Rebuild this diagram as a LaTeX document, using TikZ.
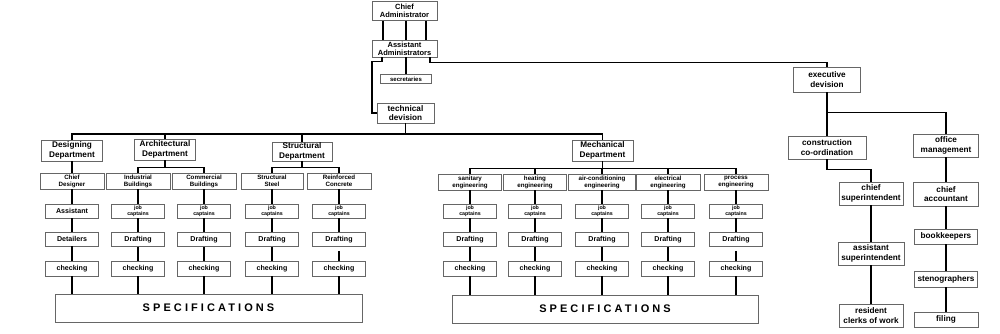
\documentclass[tikz,border=0pt]{standalone}
\usepackage{fontspec}
\setmainfont{Liberation Sans}
\newfontfamily\specfont[LetterSpace=28]{Liberation Sans}
\usetikzlibrary{calc}

\begin{document}
\begin{tikzpicture}[
  x=1pt, y=-1pt,
  box/.style={draw=black!60, line width=0.9pt, fill=white, inner sep=0pt, align=center,
              font=\bfseries\fontsize{8.2}{9.5}\selectfont},
  head/.style={box, minimum width=65pt, font=\bfseries\fontsize{7.5}{8.3}\selectfont},
  dept/.style={box, minimum width=61pt, minimum height=21pt, font=\bfseries\fontsize{8.2}{9.3}\selectfont},
  sect/.style={box, minimum width=64pt, minimum height=16pt, font=\bfseries\fontsize{6.2}{6.9}\selectfont},
  task/.style={box, minimum width=53pt, minimum height=14pt, font=\bfseries\fontsize{7.1}{8}\selectfont},
  jobs/.style={task, font=\bfseries\fontsize{5.3}{6}\selectfont},
  spec/.style={box, minimum width=306pt, minimum height=28pt, font=\specfont\bfseries\fontsize{11}{13}\selectfont},
  staff/.style={box, minimum width=65pt, minimum height=23pt},
  link/.style={line width=1.7pt}
]
\fill[white] (0,0) rectangle (1000,333);
\useasboundingbox (0,0) rectangle (1000,333);

% top of the chart
\node[head, minimum height=19pt] (chief) at (404.5,11) {Chief\\Administrator};
\node[head, minimum height=17pt] (asst) at (404.5,48.5) {Assistant\\Administrators};
\node[box, minimum width=51pt, minimum height=8.5pt, font=\bfseries\fontsize{6}{6}\selectfont] (sec) at (406,79) {secretaries};
\node[box, minimum width=57pt, minimum height=20pt] (tech) at (405.5,113) {technical\\devision};
\node[box, minimum width=67pt, minimum height=25pt] (exec) at (827,79.5) {executive\\devision};

% departments
\node[dept] (desg) at (72,150.5) {Designing\\Department};
\node[dept] (arch) at (165,149.5) {Architectural\\Department};
\node[dept, minimum width=60pt, minimum height=19pt] (struc) at (302,151.5) {Structural\\Department};
\node[dept] (mech) at (602.5,150.5) {Mechanical\\Department};
\coordinate (tbar) at (405.5,134);

\node[sect] (chd) at (72,181) {Chief\\Designer};
\node[sect] (ind) at (138,181) {Industrial\\Buildings};
\node[sect] (com) at (204,181) {Commercial\\Buildings};
\node[sect, minimum width=62pt] (sst) at (272,181) {Structural\\Steel};
\node[sect] (rcn) at (339,181) {Reinforced\\Concrete};
\node[sect, minimum width=63pt] (san) at (470,182) {sanitary\\engineering};
\node[sect, minimum width=63pt] (hea) at (535,182) {heating\\engineering};
\node[sect, minimum width=67pt] (air) at (602,182) {air-conditioning\\engineering};
\node[sect] (ele) at (668,182) {electrical\\engineering};
\node[sect] (pro) at (736,182) {process\\engineering};
\coordinate (mbar) at ($(mech.south)+(0,7)$);

% drawing office stacks
\node[task] (chd-3) at (72,211) {Assistant};
\node[task] (chd-4) at (72,239) {Detailers};
\foreach \c/\x in {ind/138, com/204, sst/272, rcn/339, san/470, hea/535, air/602, ele/668, pro/736} {
  \node[jobs] (\c-3) at (\x,211) {job\\captains};
  \node[task] (\c-4) at (\x,239.5) {Drafting};
}
\foreach \c/\x in {chd/72, ind/138, com/204, sst/272, rcn/339, san/470, hea/535, air/602, ele/668, pro/736}
  \node[task, minimum height=15pt] (\c-5) at (\x,268.5) {checking};

\node[spec, minimum width=307pt] (spec1) at (208.5,308) {SPECIFICATIONS};
\node[spec] (spec2) at (605,309) {SPECIFICATIONS};

% executive side
\node[staff, minimum width=78pt] (cons) at (827,147.5) {construction\\co-ordination};
\node[staff] (off) at (946,145.5) {office\\management};
\node[staff, minimum width=64pt] (csup) at (871,193.5) {chief\\superintendent};
\node[staff, minimum height=24pt] (cacc) at (946,194) {chief\\accountant};
\node[staff, minimum width=66pt] (asup) at (871,253.5) {assistant\\superintendent};
\node[staff, minimum width=64pt] (res) at (871,315.5) {resident\\clerks of work};
\node[staff, minimum width=63pt, minimum height=15pt] (book) at (946,236.5) {bookkeepers};
\node[staff, minimum width=63pt, minimum height=16pt] (steno) at (946,279) {stenographers};
\node[staff, minimum width=64pt, minimum height=15pt] (fil) at (946,319.5) {filing};

% connectors
\draw[link] ($(chief.south)+(-21.5,0)$) -- ($(asst.north)+(-21.5,0)$);
\draw[link] ($(chief.south)+(1.5,0)$) -- ($(asst.north)+(1.5,0)$);
\draw[link] ($(chief.south)+(21.5,0)$) -- ($(asst.north)+(21.5,0)$);
\draw[link] (sec.north |- asst.south) -- (sec.north);
\draw[link] ($(asst.south)+(-22.5,0)$) -- ++(0,4) -- ++(-10,0) |- (tech.west);
\draw[link] ($(asst.south)+(25.5,0)$) -- ++(0,5) -| (exec.north);

\draw[link] (tech.south) -- (tbar);
\draw[link] (desg.north) |- (tbar) -| (mech.north);
\draw[link] (arch.north) -- (arch.north |- tbar);
\draw[link] (struc.north) -- (struc.north |- tbar);

\draw[link] (desg.south) -- (chd.north);
\draw[link] (arch.south) -- ++(0,7);
\draw[link] (ind.north) |- ($(arch.south)+(0,7)$) -| (com.north);
\draw[link] (struc.south) -- ++(0,6);
\draw[link] (sst.north) |- ($(struc.south)+(0,6)$) -| (rcn.north);
\draw[link] (mech.south) -- (mbar);
\draw[link] (san.north) |- (mbar) -| (pro.north);
\foreach \c in {hea, air, ele}
  \draw[link] (\c.north) -- (\c.north |- mbar);

\foreach \c in {chd, ind, com, sst, rcn, san, hea, air, ele, pro}
  \draw[link] (\c.south) -- (\c-3.north) (\c-3.south) -- (\c-4.north);
\foreach \c in {chd, ind, com, sst, san, hea, air, ele}
  \draw[link] (\c-4.south) -- (\c-5.north);
\foreach \c in {rcn, pro}
  \draw[link, shorten <=4pt] (\c-4.south) -- (\c-5.north);
\foreach \c in {chd, ind, com, sst, rcn}
  \draw[link] (\c-5.south) -- (\c-5.south |- spec1.north);
\foreach \c in {san, hea, air, ele, pro}
  \draw[link] (\c-5.south) -- (\c-5.south |- spec2.north);

\draw[link] (exec.south) -- (cons.north);
\draw[link] (exec.south) -- ++(0,20) -| (off.north);
\draw[link] (cons.south) -- ++(0,10) -| (csup.north);
\draw[link] (csup.south) -- (asup.north) (asup.south) -- (res.north);
\draw[link] (off.south) -- (cacc.north) (cacc.south) -- (book.north)
  (book.south) -- (steno.north) (steno.south) -- (fil.north);
\end{tikzpicture}
\end{document}
